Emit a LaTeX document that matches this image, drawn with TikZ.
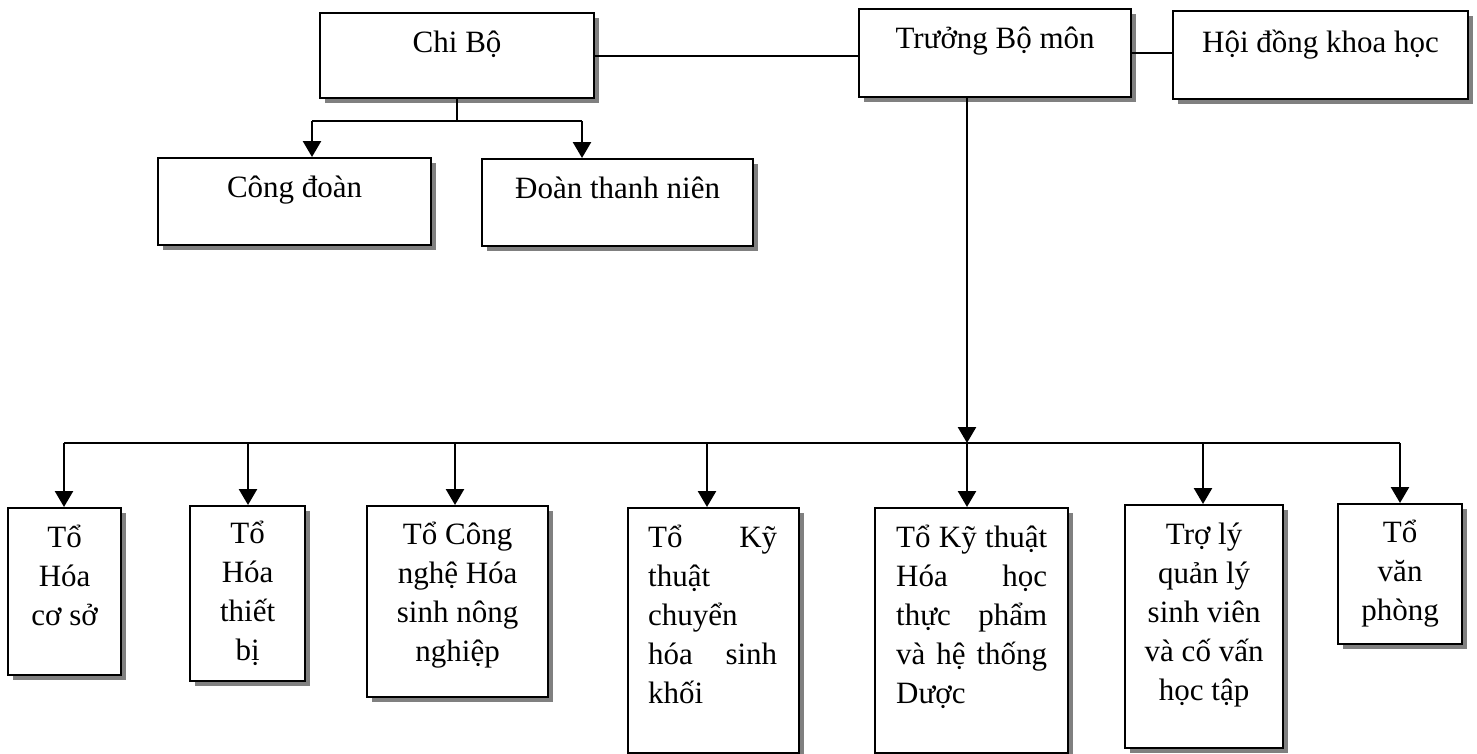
\documentclass[tikz,border=0pt]{standalone}
\usepackage{fontspec}
\setmainfont{Liberation Serif}
\usetikzlibrary{arrows.meta,shadows}
\newcommand\fl{\rule{0pt}{30pt}}
\begin{document}
\begin{tikzpicture}[x=1pt,y=-1pt,
  box/.style={draw, line width=2.2pt, fill=white, inner sep=0pt, anchor=north west,
    drop shadow={shadow xshift=5pt, shadow yshift=-5pt, fill=black!50, opacity=1}},
  txt/.style={anchor=north, inner sep=0pt, align=center,
    font=\fontsize{31}{39}\selectfont},
  jtxt/.style={txt, anchor=north west, align=left},
  ln/.style={line width=2pt},
  arr/.style={line width=2.6pt, -{Triangle[width=18pt,length=16pt]}}]
\useasboundingbox (0,0) rectangle (1477,753);

% top row
\node[box, minimum width=274pt, minimum height=85pt] (chibo) at (319,12) {};
\node[box, minimum width=272pt, minimum height=88pt] (tbm) at (858,8) {};
\node[box, minimum width=295pt, minimum height=88pt] (hdkh) at (1172,10) {};
\node[txt] at ([yshift=-10pt]chibo.north) {\fl Chi Bộ};
\node[txt] at ([yshift=-10pt]tbm.north) {\fl Trưởng Bộ môn};
\node[txt] at ([yshift=-12pt]hdkh.north) {\fl Hội đồng khoa học};

% second row
\node[box, minimum width=273pt, minimum height=87pt] (cd) at (157,157) {};
\node[box, minimum width=271pt, minimum height=87pt] (dtn) at (481,158) {};
\node[txt] at ([yshift=-10pt]cd.north) {\fl Công đoàn};
\node[txt] at ([yshift=-10pt]dtn.north) {\fl Đoàn thanh niên};

% bottom row
\node[box, minimum width=113pt, minimum height=167pt] (b1) at (7,507) {};
\node[box, minimum width=115pt, minimum height=175pt] (b2) at (189,505) {};
\node[box, minimum width=181pt, minimum height=191pt] (b3) at (366,505) {};
\node[box, minimum width=171pt, minimum height=245pt] (b4) at (627,507) {};
\node[box, minimum width=193pt, minimum height=245pt] (b5) at (874,507) {};
\node[box, minimum width=158pt, minimum height=243pt] (b6) at (1124,504) {};
\node[box, minimum width=124pt, minimum height=140pt] (b7) at (1337,503) {};

\node[txt] at ([yshift=-10pt]b1.north) {\fl Tổ\\Hóa\\cơ sở};
\node[txt] at ([yshift=-8pt]b2.north) {\fl Tổ\\Hóa\\thiết\\bị};
\node[txt] at ([yshift=-9pt]b3.north) {\fl Tổ Công\\nghệ Hóa\\sinh nông\\nghiệp};
\node[jtxt] at ([xshift=21pt,yshift=-10pt]b4.north west)
  {\fl\makebox[129pt][s]{Tổ Kỹ}\\ thuật\\ chuyển\\ \makebox[129pt][s]{hóa sinh}\\ khối};
\node[jtxt] at ([xshift=22pt,yshift=-10pt]b5.north west)
  {\fl\makebox[151pt][s]{Tổ Kỹ thuật}\\ \makebox[151pt][s]{Hóa học}\\ \makebox[151pt][s]{thực phẩm}\\ \makebox[151pt][s]{và hệ thống}\\ Dược};
\node[txt] at ([yshift=-10pt]b6.north) {\fl Trợ lý\\quản lý\\sinh viên\\và cố vấn\\học tập};
\node[txt] at ([yshift=-9pt]b7.north) {\fl Tổ\\văn\\phòng};

% top connectors
\draw[ln] (chibo.east) -- (chibo.east -| tbm.west);
\draw[ln] (tbm.east) -- (tbm.east -| hdkh.west);

% Chi Bo branch
\coordinate (cbL) at (312,121);
\coordinate (cbR) at (582,121);
\draw[ln] (chibo.south) -- (chibo.south |- cbL);
\draw[ln] (cbL) -- (cbR);
\draw[arr] (cbL) -- (cbL |- cd.north);
\draw[arr] (cbR) -- (cbR |- dtn.north);

% bus
\coordinate (bs1) at (64,443);
\coordinate (bs2) at (248,443);
\coordinate (bs3) at (455,443);
\coordinate (bs4) at (707,443);
\coordinate (bs5) at (967,443);
\coordinate (bs6) at (1203,443);
\coordinate (bs7) at (1400,443);
\draw[ln] (bs1) -- (bs7);
\draw[arr] (bs5 |- tbm.south) -- (bs5);
\foreach \i in {1,...,7} {
  \draw[arr] (bs\i) -- (bs\i |- b\i.north);
}
\end{tikzpicture}
\end{document}
